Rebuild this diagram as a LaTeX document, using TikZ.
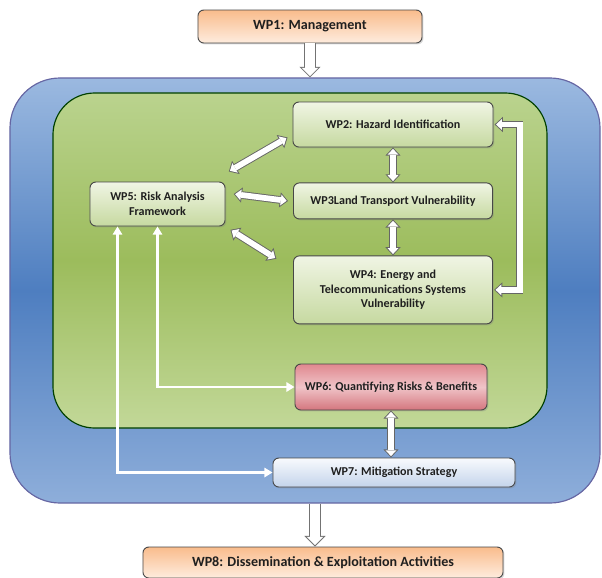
\documentclass[tikz,border=0pt]{standalone}
\usepackage{fontspec}
\setmainfont{Carlito}
\usetikzlibrary{positioning,shadows,arrows.meta}

\definecolor{bluetop}{RGB}{155,185,224}
\definecolor{bluemid}{RGB}{78,126,192}
\definecolor{bluebot}{RGB}{142,174,218}
\definecolor{greentop}{RGB}{186,211,142}
\definecolor{greenmid}{RGB}{156,188,92}
\definecolor{greenbot}{RGB}{194,216,152}
\definecolor{boxtop}{RGB}{240,245,228}
\definecolor{boxbot}{RGB}{198,217,160}
\definecolor{orangetop}{RGB}{249,188,140}
\definecolor{orangebot}{RGB}{254,236,222}
\definecolor{pinktop}{RGB}{224,136,143}
\definecolor{pinkmid}{RGB}{240,196,200}
\definecolor{pinkbot}{RGB}{212,118,126}
\definecolor{paletop}{RGB}{248,250,253}
\definecolor{palebot}{RGB}{196,212,235}

\begin{document}
\begin{tikzpicture}[x=0.03cm, y=-0.03cm,
  font=\fontsize{10.3}{12.5}\selectfont\bfseries,
  wp/.style={draw=black!72, line width=0.8pt, rounded corners=5pt, align=center, text=black!88,
    drop shadow={opacity=0.3, shadow xshift=1.2pt, shadow yshift=-1.2pt}},
  wpgreen/.style={wp, top color=boxtop, bottom color=boxbot},
  wporange/.style={wp, top color=orangetop, bottom color=orangebot, font=\fontsize{12}{14}\selectfont\bfseries},
  wppink/.style={wp, top color=pinktop, bottom color=pinkbot, middle color=pinkmid},
  wppale/.style={wp, top color=paletop, bottom color=palebot},
  bluebox/.style={draw=black!60!blue!60, line width=1pt, rounded corners=1.5cm,
    top color=bluetop, bottom color=bluebot, middle color=bluemid},
  greenbox/.style={draw=green!25!black, line width=1pt, rounded corners=1.25cm,
    top color=greentop, bottom color=greenbot, middle color=greenmid},
  bighollow/.style={line width=10pt, draw=black!55, -{Triangle[length=9pt,width=18pt,line width=0pt]},
    postaction={draw=white, line width=8.4pt, shorten >=1.13pt, -{Triangle[length=7.07pt,width=14.1pt,line width=0pt]}}},
  hollow/.style={line width=6.5pt, draw=black!60,
    {Triangle[length=7pt,width=13pt,line width=0pt]}-{Triangle[length=7pt,width=13pt,line width=0pt]},
    postaction={draw=white, line width=4.9pt, shorten >=1.17pt, shorten <=1.17pt,
      {Triangle[length=5.03pt,width=9.35pt,line width=0pt]}-{Triangle[length=5.03pt,width=9.35pt,line width=0pt]}}},
  thinwhite/.style={draw=white, line width=2.2pt,
    {Triangle[length=7pt,width=8pt]}-{Triangle[length=7pt,width=8pt]}}]
\useasboundingbox (0,0) rectangle (602,578);

\node[bluebox, minimum width=17.7cm, minimum height=12.75cm] (outer) at (305,290.5) {};
\node[greenbox, minimum width=14.82cm, minimum height=10.05cm] (inner) at (300,260.5) {};

\node[wporange, minimum width=6.72cm, minimum height=0.99cm] (wp1) at (310,26.5) {WP1: Management};
\node[wpgreen, minimum width=6cm, minimum height=1.35cm] (wp2) at (393,124.5) {WP2: Hazard Identification};
\node[wpgreen, minimum width=5.97cm, minimum height=1.08cm, below=1.05cm of wp2] (wp3) {WP3Land Transport Vulnerability};
\node[wpgreen, minimum width=5.97cm, minimum height=2.04cm, below=1.08cm of wp3] (wp4) {WP4: Energy and\\Telecommunications Systems\\Vulnerability};
\node[wpgreen, minimum width=4.05cm, minimum height=1.32cm] (wp5) at (157.5,204) {WP5: Risk Analysis\\Framework};
\node[wppink, minimum width=5.76cm, minimum height=1.38cm] (wp6) at (391,387) {WP6: Quantifying Risks \& Benefits};
\node[wppale, minimum width=7.26cm, minimum height=0.87cm] (wp7) at (394,472.5) {WP7: Mitigation Strategy};
\node[wporange, minimum width=10.8cm, minimum height=0.93cm] (wp8) at (323,562.5) {WP8: Dissemination \& Exploitation Activities};

\draw[bighollow] (wp1.south) -- (wp1.south |- outer.north);
\draw[bighollow] ([xshift=3mm]outer.south) -- ([xshift=3mm]outer.south |- wp8.north);
\draw[hollow] (wp2.south) -- (wp3.north);
\draw[hollow] (wp3.south) -- (wp4.north);
\draw[hollow] ([xshift=1pt]wp2.east) -- ++(0.75cm,0) |- ([xshift=1pt]wp4.east);
\draw[hollow] ([shift={(1mm,3mm)}]wp5.north east) -- ([shift={(-1.5mm,3mm)}]wp2.south west);
\draw[hollow] ([shift={(2.5mm,3mm)}]wp5.east) -- ([xshift=-1.5mm]wp3.west);
\draw[hollow] ([shift={(1.5mm,-1mm)}]wp5.south east) -- ([shift={(-5mm,-1mm)}]wp4.north west);
\draw[hollow] (wp6.south) -- (wp6.south |- wp7.north);
\draw[thinwhite] (wp5.south) |- (wp6.west);
\draw[thinwhite] ([xshift=-1.2cm]wp5.south) |- (wp7.west);
\end{tikzpicture}
\end{document}
